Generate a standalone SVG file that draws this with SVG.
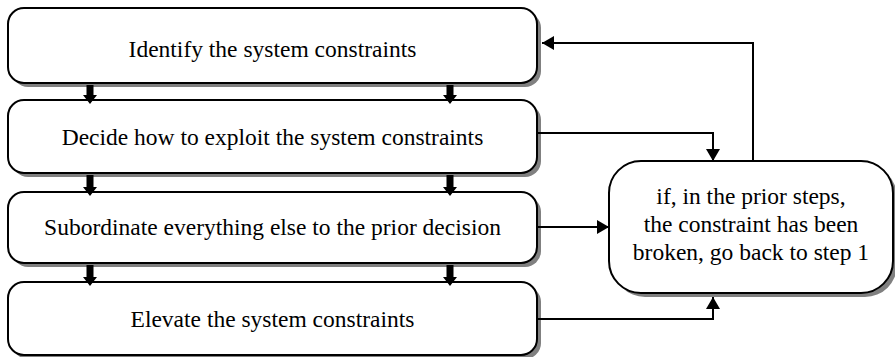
<svg xmlns="http://www.w3.org/2000/svg" width="895" height="357" viewBox="0 0 895 357">
<defs>
<style>
.shadow{fill:#808080;stroke:none}
.box{fill:#fff;stroke:#000;stroke-width:2}
.t{font-family:"Liberation Serif","Times New Roman",serif;font-size:23.5px;fill:#000;text-anchor:middle}
.line{fill:none;stroke:#000;stroke-width:2}
.thick{fill:#000;stroke:none}
</style>
<marker id="ah" viewBox="0 0 12 14" refX="12" refY="7" markerWidth="12" markerHeight="14" markerUnits="userSpaceOnUse" orient="auto">
<path d="M0,0 L12,7 L0,14 Z" fill="#000"/>
</marker>
</defs>
<rect width="895" height="357" fill="#fff"/>
<g id="step1">
<rect class="shadow" x="12" y="12" width="529" height="75" rx="16"/>
<rect class="box" x="8" y="8" width="529" height="75" rx="16"/>
<text class="t" x="272.5" y="57">Identify the system constraints</text>
</g>
<g id="step2">
<rect class="shadow" x="12" y="104" width="529" height="73" rx="16"/>
<rect class="box" x="8" y="100" width="529" height="73" rx="16"/>
<text class="t" x="272.5" y="145">Decide how to exploit the system constraints</text>
</g>
<g id="step3">
<rect class="shadow" x="12" y="196" width="529" height="71" rx="16"/>
<rect class="box" x="8" y="192" width="529" height="71" rx="16"/>
<text class="t" x="272.5" y="235">Subordinate everything else to the prior decision</text>
</g>
<g id="step4">
<rect class="shadow" x="12" y="286" width="529" height="73" rx="16"/>
<rect class="box" x="8" y="282" width="529" height="73" rx="16"/>
<text class="t" x="272.5" y="327">Elevate the system constraints</text>
</g>
<g id="check">
<rect class="shadow" x="613" y="165" width="284" height="132" rx="32"/>
<rect class="box" x="609" y="161" width="284" height="132" rx="32"/>
<text class="t" x="751" y="204">if, in the prior steps,</text>
<text class="t" x="751" y="232">the constraint has been</text>
<text class="t" x="751" y="260">broken, go back to step 1</text>
</g>
<g id="connectors">
<path class="thick" d="M86.5,85 h7 v10 h3.5 l-7,9 l-7,-9 h3.5 Z"/>
<path class="thick" d="M446.5,85 h7 v10 h3.5 l-7,9 l-7,-9 h3.5 Z"/>
<path class="thick" d="M86.5,175 h7 v12 h3.5 l-7,9 l-7,-9 h3.5 Z"/>
<path class="thick" d="M446.5,175 h7 v12 h3.5 l-7,9 l-7,-9 h3.5 Z"/>
<path class="thick" d="M86.5,265 h7 v12 h3.5 l-7,9 l-7,-9 h3.5 Z"/>
<path class="thick" d="M446.5,265 h7 v12 h3.5 l-7,9 l-7,-9 h3.5 Z"/>
<path class="line" d="M753,161 V43 H542" marker-end="url(#ah)"/>
<path class="line" d="M538,133 H713 V161" marker-end="url(#ah)"/>
<path class="line" d="M538,227 H609" marker-end="url(#ah)"/>
<path class="line" d="M538,319 H713 V297" marker-end="url(#ah)"/>
</g>
</svg>
